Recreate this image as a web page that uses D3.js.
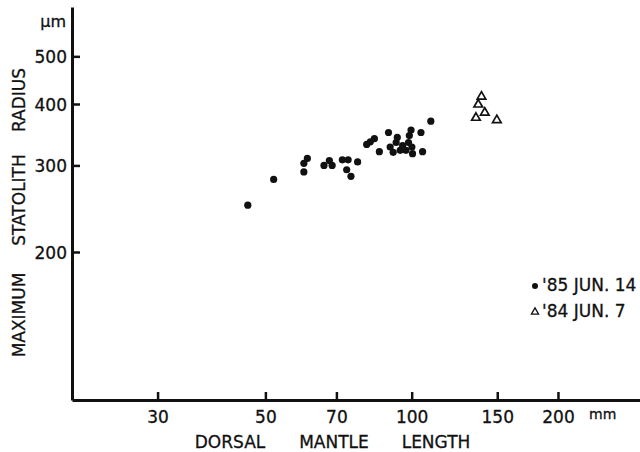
<!DOCTYPE html>
<html>
<head>
<meta charset="utf-8">
<script src="https://cdn.jsdelivr.net/npm/d3@7"></script>
<style>
  body { margin: 0; background: white; }
  text { font-family: "DejaVu Sans", sans-serif; fill: #111; stroke: #111; stroke-width: 0.3; }
</style>
</head>
<body>
<svg width="640" height="452"></svg>
<script>
// '85 JUN. 14 samples: dorsal mantle length (mm), max statolith radius (um)
const jun85Length = [46, 52, 60, 60, 61, 66, 67.7, 68.6, 72, 74, 77.4, 73.5, 75,
  80.8, 82.2, 83.8, 85.8, 89.6, 90.3, 91.6, 92.9, 93.4, 94.7, 95.8, 97.3, 98.9, 99.7,
  98.5, 100.1, 100.4, 104.5, 105.3, 109.5];
const jun85Radius = [249, 281, 291, 303, 310, 300, 307, 300, 308, 308, 305, 294, 285,
  331, 335, 340, 320, 350, 327, 319, 334, 342, 322, 329, 322, 345, 354,
  334, 327, 317, 350, 320, 369];

// '84 JUN. 7 samples
const jun84Length = [139.2, 137.1, 141.4, 135.6, 149.7];
const jun84Radius = [414, 399, 384, 375, 371];

const xTicks = [30, 50, 70, 100, 150, 200];
const yTicks = [200, 300, 400, 500];
const legendLabels = ["'85 JUN. 14", "'84 JUN. 7"];

const svg = d3.select('svg');
svg.style('background-color', 'white');

const x = d3.scaleLog().domain([20, 295]).range([72, 640]);
const y = d3.scaleLog().domain([100, 630]).range([400, 7]);

// axes
const yAxis = svg.append('g')
  .attr('transform', `translate(${x(20)},0)`)
  .call(d3.axisLeft(y).tickValues(yTicks).tickFormat(d3.format('d'))
    .tickSize(-8).tickSizeOuter(0).tickPadding(5));

const xAxis = svg.append('g')
  .attr('transform', `translate(0,${y(100)})`)
  .call(d3.axisBottom(x).tickValues(xTicks).tickFormat(d3.format('d'))
    .tickSize(-8).tickSizeOuter(0).tickPadding(11));

[yAxis, xAxis].forEach(ax => {
  ax.select('.domain').attr('stroke', '#111').attr('stroke-width', 3);
  ax.selectAll('.tick line').attr('stroke', '#111').attr('stroke-width', 2.5);
  ax.selectAll('.tick text')
    .attr('font-family', '"DejaVu Sans", sans-serif')
    .attr('font-size', 17).attr('fill', '#111');
});
yAxis.selectAll('.tick text').attr('dy', '0.36em');

// units
svg.append('text').attr('x', 66).attr('y', 27).attr('text-anchor', 'end')
  .attr('font-size', 16).text('μm');
svg.append('text').attr('x', 589).attr('y', 419)
  .attr('font-size', 14).text('mm');

// axis titles, spaced words like the original
const xTitle = ['DORSAL', 'MANTLE', 'LENGTH'];
const xTitlePos = [230, 334, 436];
svg.selectAll('.xtitle').data(xTitle).join('text')
  .attr('class', 'xtitle')
  .attr('x', (d, i) => xTitlePos[i]).attr('y', 448)
  .attr('text-anchor', 'middle').attr('font-size', 17)
  .text(d => d);

const yTitle = ['MAXIMUM', 'STATOLITH', 'RADIUS'];
const yTitlePos = [315, 200, 100];
svg.selectAll('.ytitle').data(yTitle).join('text')
  .attr('class', 'ytitle')
  .attr('transform', (d, i) => `translate(25,${yTitlePos[i]}) rotate(-90)`)
  .attr('text-anchor', 'middle').attr('font-size', 17)
  .text(d => d);

// points
const dots = jun85Length.map((d, i) => ({ len: d, rad: jun85Radius[i] }));
const tris = jun84Length.map((d, i) => ({ len: d, rad: jun84Radius[i] }));

svg.append('g').selectAll('circle').data(dots).join('circle')
  .attr('cx', d => x(d.len)).attr('cy', d => y(d.rad))
  .attr('r', 3.6).attr('fill', '#111');

const tri = d3.symbol().type(d3.symbolTriangle).size(32);
svg.append('g').selectAll('path').data(tris).join('path')
  .attr('transform', d => `translate(${x(d.len)},${y(d.rad)})`)
  .attr('d', tri).attr('fill', 'white').attr('stroke', '#111').attr('stroke-width', 1.7);

// legend
const legend = svg.append('g').attr('transform', 'translate(535,286)');
legend.append('circle').attr('r', 3).attr('fill', '#111');
legend.append('path').attr('transform', 'translate(0,26)')
  .attr('d', d3.symbol().type(d3.symbolTriangle).size(22))
  .attr('fill', 'white').attr('stroke', '#111').attr('stroke-width', 1.3);
legend.selectAll('.lab').data(legendLabels).join('text')
  .attr('class', 'lab')
  .attr('x', 7).attr('y', (d, i) => 5 + i * 26)
  .attr('font-size', 17)
  .text(d => d);
</script>
</body>
</html>
